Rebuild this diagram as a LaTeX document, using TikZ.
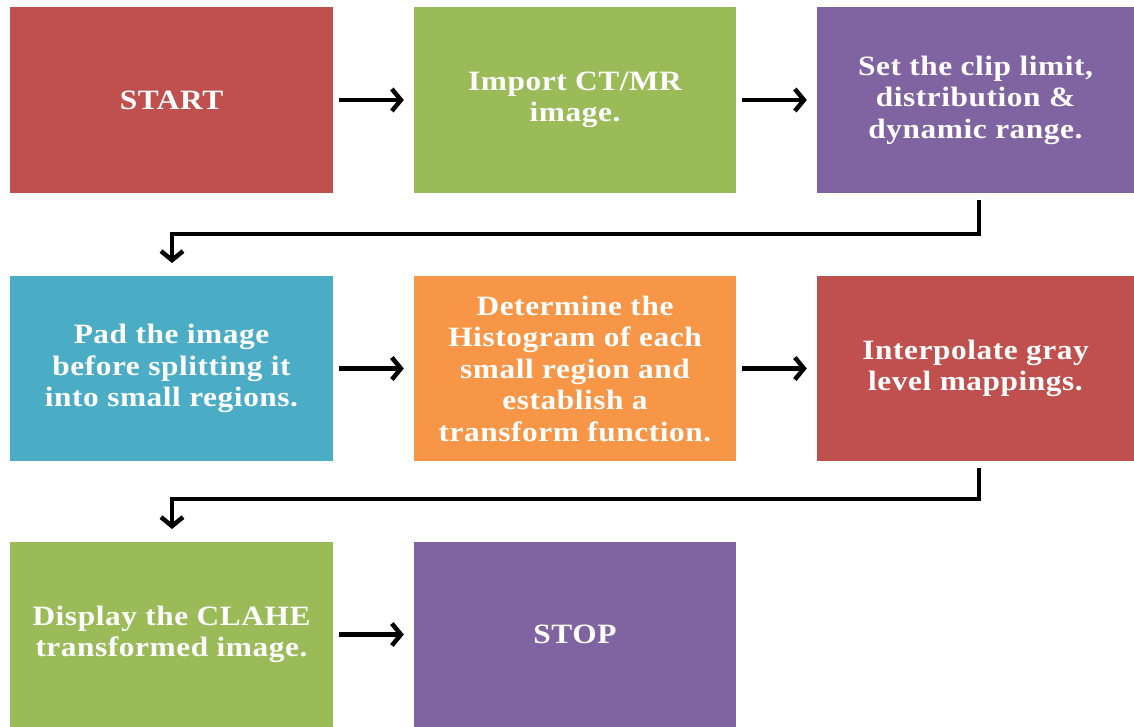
\documentclass[tikz,border=0pt]{standalone}
\usepackage{fontspec}
\setmainfont{Liberation Serif}
\newfontfamily\boxfont[FakeStretch=1.12, LetterSpace=2]{Liberation Serif}
\usetikzlibrary{arrows.meta}
\definecolor{cred}{HTML}{C0504D}
\definecolor{cgreen}{HTML}{9BBB59}
\definecolor{cpurple}{HTML}{8064A2}
\definecolor{cblue}{HTML}{4BACC6}
\definecolor{corange}{HTML}{F79646}
\tikzset{
  box/.style={fill=#1, draw=none, inner sep=0pt, text=white, align=center,
    font=\boxfont\fontsize{28}{31.5}\selectfont\bfseries, anchor=center},
  conn/.style={line width=4.5pt, -{Straight Barb[length=9pt, width=22pt, line width=4.5pt]}},
  elbow/.style={line width=4.5pt, -{Straight Barb[length=9pt, width=22pt, line width=4.5pt]}}
}
\begin{document}
\begin{tikzpicture}[x=1pt, y=-1pt]
\useasboundingbox (0,0) rectangle (1134,727);
\node[box=cred, minimum width=323pt, minimum height=186pt] (start) at (171.5,100) {START};
\node[box=cgreen, minimum width=322pt, minimum height=186pt] (import) at (575,100) {Import CT/MR\\image.};
\node[box=cpurple, minimum width=317pt, minimum height=186pt] (clip) at (975.5,100) {Set the clip limit,\\distribution \&\\dynamic range.};
\node[box=cblue, minimum width=323pt, minimum height=185pt] (pad) at (171.5,368.5) {Pad the image\\before splitting it\\into small regions.};
\node[box=corange, minimum width=322pt, minimum height=185pt] (hist) at (575,368.5) {Determine the\\Histogram of each\\small region and\\establish a\\transform function.};
\node[box=cred, minimum width=317pt, minimum height=185pt] (interp) at (975.5,368.5) {Interpolate gray\\level mappings.};
\node[box=cgreen, minimum width=323pt, minimum height=185pt] (disp) at (171.5,634.5) {Display the CLAHE\\transformed image.};
\node[box=cpurple, minimum width=322pt, minimum height=185pt] (stop) at (575,634.5) {STOP};

\draw[conn] ([xshift=6pt]start.east) -- ([xshift=-10pt]import.west);
\draw[conn] ([xshift=6pt]import.east) -- ([xshift=-10pt]clip.west);
\draw[conn] ([xshift=6pt]pad.east) -- ([xshift=-10pt]hist.west);
\draw[conn] ([xshift=6pt]hist.east) -- ([xshift=-10pt]interp.west);
\draw[conn] ([xshift=6pt]disp.east) -- ([xshift=-10pt]stop.west);

\coordinate (c1a) at (979,200);
\coordinate (c1b) at (979,234);
\coordinate (c1c) at (172,234);
\coordinate (c1d) at (172,263);
\draw[elbow, line join=miter] (c1a) -- (c1b) -- (c1c) -- (c1d);
\coordinate (c2a) at (979,468);
\coordinate (c2b) at (979,499);
\coordinate (c2c) at (172,499);
\coordinate (c2d) at (172,529);
\draw[elbow, line join=miter] (c2a) -- (c2b) -- (c2c) -- (c2d);
\end{tikzpicture}
\end{document}
